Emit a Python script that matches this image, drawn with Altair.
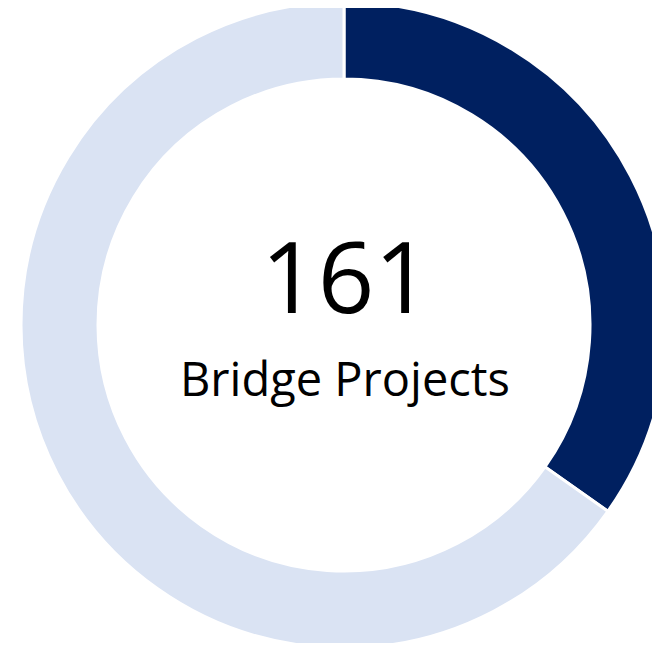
import altair as alt
import pandas as pd

categories = ["Segment A", "Segment B"]
values = [56, 105]
colors = ["#002060", "#DAE3F3"]
total_label = "161"
sub_label = "Bridge Projects"

df = pd.DataFrame({"category": categories, "value": values, "order": [0, 1]})

W, H = 644, 635
CX, CY = 336, 317

ring = alt.Chart(df).mark_arc(
    radius=323, radius2=246, stroke="white", strokeWidth=3
).encode(
    theta=alt.Theta("value:Q", stack=True),
    order=alt.Order("order:Q"),
    color=alt.Color("category:N", scale=alt.Scale(domain=categories, range=colors), legend=None),
    x=alt.value(CX),
    y=alt.value(CY),
)

font = "Open Sans"

t1 = alt.Chart(pd.DataFrame({"t": [total_label]})).mark_text(
    fontSize=99, font=font, color="black", align="center", baseline="alphabetic"
).encode(text="t:N", x=alt.value(338), y=alt.value(305))

t2 = alt.Chart(pd.DataFrame({"t": [sub_label]})).mark_text(
    fontSize=47, font=font, color="black", align="center", baseline="alphabetic"
).encode(text="t:N", x=alt.value(337), y=alt.value(388))

chart = alt.layer(ring, t1, t2).properties(
    width=W, height=H, padding=0, autosize=alt.AutoSizeParams(type="none")
).configure_view(stroke=None)

chart.save("out.html", embed_options={"renderer": "svg", "actions": False})
